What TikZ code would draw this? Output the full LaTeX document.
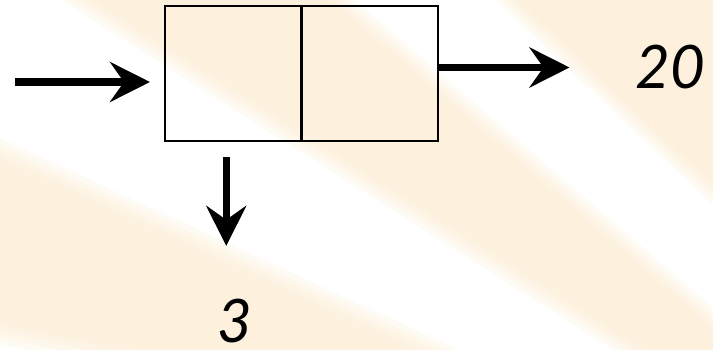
\documentclass[tikz,border=0pt]{standalone}
\usepackage{fontspec}
\setmainfont{Lato}
\usetikzlibrary{arrows.meta,positioning}

\definecolor{sand}{RGB}{252,234,206}

\tikzset{
  cell/.style={draw, line width=2.2pt, outer sep=0pt, inner sep=0pt,
    minimum width=136.5pt, minimum height=135pt},
  flow/.style={line width=7.5pt, -{Stealth[length=40pt,width=40pt,inset=14pt]}},
  num/.style={font=\fontsize{60}{60}\selectfont\itshape, inner sep=0pt},
  ray/.style={fill=sand, opacity=0.22}
}

\begin{document}
\begin{tikzpicture}[x=1pt,y=-1pt]

  \useasboundingbox (0,0) rectangle (713,350);

  % soft rays behind the picture
  \begin{scope}
    \clip (0,0) rectangle (713,350);
    \foreach \d in {-12,-6,0,6,12} {
      \begin{scope}[yshift=\d pt]
        \fill[ray] (-50,127) -- (600,427) -- (600,452) -- (-50,322) -- cycle;
        \fill[ray] (1,-50) -- (282,-50) -- (830,420) -- (743,420) -- cycle;
        \fill[ray] (455,-50) -- (800,-50) -- (800,275) -- cycle;
      \end{scope}
    }
  \end{scope}

  \node (left) [cell] at (233.25,73.5) {};
  \node (right) [cell, right=0pt of left] {};

  \node (twenty) [num] at (670.5,67.5) {20};
  \node (three) [num] at (235,321) {3};
  \coordinate (src) at (15,82);

  \draw [flow, shorten >=15pt] (src) -- (src -| left.west);
  \draw [flow, shorten >=66pt] (twenty -| right.east) -- (twenty.west);
  \draw [flow, shorten >=53pt] ([xshift=-7pt,yshift=-16pt]left.south)
    -- ([xshift=-7pt]left.south |- three.north);

\end{tikzpicture}
\end{document}
